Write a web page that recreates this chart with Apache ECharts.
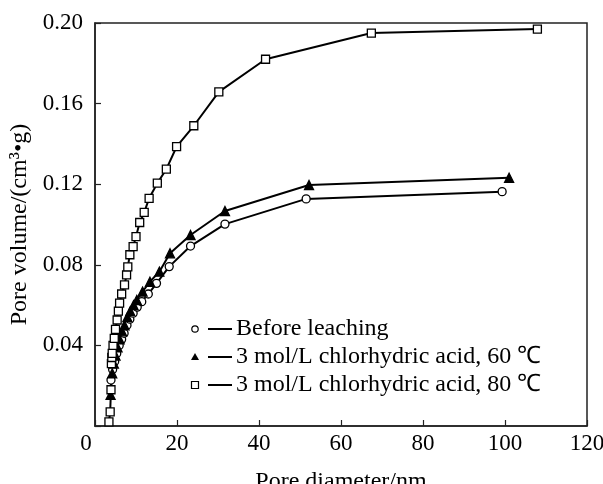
<!DOCTYPE html>
<html><head><meta charset="utf-8">
<script src="https://cdn.jsdelivr.net/npm/echarts@6/dist/echarts.min.js"></script>
<style>html,body{margin:0;padding:0;background:#fff}#c{width:603px;height:484px}</style>
</head><body><div id="c"></div>
<script>
const legendNames = ["Before leaching", "3 mol/L chlorhydric acid, 60 \u2103", "3 mol/L chlorhydric acid, 80 \u2103"];
const xTicks = [0, 20, 40, 60, 80, 100, 120];
const yTicks = [0, 0.04, 0.08, 0.12, 0.16, 0.20];

const beforeX = [3.9,4.3,4.8,5.3,5.9,6.5,7.1,7.8,8.5,9.3,10.3,11.4,13.0,15.0,18.1,23.3,31.7,51.5,99.3];
const beforeY = [0.0228,0.028,0.032,0.036,0.040,0.043,0.046,0.050,0.053,0.056,0.059,0.0617,0.0655,0.0708,0.0791,0.0893,0.1002,0.1127,0.1163];

const acid60X = [3.8,4.2,4.6,5.0,5.5,6.0,6.6,7.2,7.9,8.6,9.4,10.2,11.6,13.4,15.7,18.3,23.3,31.7,52.2,101.0];
const acid60Y = [0.0154,0.0261,0.031,0.035,0.039,0.043,0.047,0.050,0.054,0.057,0.060,0.0625,0.0667,0.0716,0.0766,0.0857,0.0948,0.1067,0.1196,0.1232];

const acid80X = [3.4,3.7,3.9,4.0,4.1,4.2,4.4,4.7,5.0,5.4,5.7,6.0,6.5,7.2,7.7,8.0,8.5,9.3,10.0,10.9,12.0,13.2,15.2,17.4,19.9,24.1,30.2,41.6,67.4,107.9];
const acid80Y = [0.002,0.007,0.018,0.031,0.034,0.036,0.040,0.0435,0.048,0.0526,0.057,0.061,0.0655,0.070,0.075,0.079,0.085,0.089,0.094,0.101,0.106,0.113,0.1205,0.1275,0.1386,0.149,0.1658,0.182,0.195,0.197];

const zip = (a, b) => a.map((v, i) => [v, b[i]]);
const FONT = '"Liberation Serif", "Times New Roman", serif';

const chart = echarts.init(document.getElementById('c'), null, {renderer: 'canvas'});
const lineStyle = {color: '#000', width: 2};
const mk = (name, data, symbol, size, fill) => ({
  name, type: 'line', data, symbol, symbolSize: size, showSymbol: true,
  lineStyle, itemStyle: {color: fill, borderColor: '#000', borderWidth: 1.3},
  emphasis: {disabled: true}, animation: false
});

const lx = 195, ly = [329, 357, 385];
const legendGraphic = [
  {type: 'circle', shape: {cx: lx, cy: ly[0], r: 3.2}, style: {fill: '#fff', stroke: '#000', lineWidth: 1.2}},
  {type: 'polygon', shape: {points: [[lx, ly[1] - 4], [lx - 4, ly[1] + 3], [lx + 4, ly[1] + 3]]}, style: {fill: '#000'}},
  {type: 'rect', shape: {x: lx - 3.5, y: ly[2] - 3.5, width: 7, height: 7}, style: {fill: '#fff', stroke: '#000', lineWidth: 1.2}}
];
ly.forEach((y, i) => {
  legendGraphic.push({type: 'line', shape: {x1: 208, y1: y, x2: 232, y2: y}, style: {stroke: '#000', lineWidth: 2}});
  legendGraphic.push({type: 'text', x: 236, y: y, style: {text: legendNames[i], font: '24px ' + FONT, fill: '#000', verticalAlign: 'middle', align: 'left'}});
});

chart.setOption({
  backgroundColor: '#fff',
  animation: false,
  grid: {left: 95, top: 23, right: 16, bottom: 58, containLabel: false, outerBoundsMode: 'none',
    show: true, borderColor: '#222', borderWidth: 1.5, backgroundColor: 'transparent'},
  xAxis: {
    type: 'value', min: 0, max: 120, interval: 20,
    name: 'Pore diameter/nm', nameLocation: 'middle', nameGap: 44,
    nameTextStyle: {fontFamily: FONT, fontSize: 24, color: '#000'},
    axisLine: {show: true, onZero: false, lineStyle: {color: '#222', width: 1.5}},
    axisTick: {show: true, inside: true, length: 6, lineStyle: {color: '#222', width: 1.2}},
    splitLine: {show: false},
    axisLabel: {fontFamily: FONT, fontSize: 23, color: '#000', margin: 6,
      formatter: v => xTicks.includes(v) ? (v === 0 ? '{z|0}' : String(v)) : '',
      rich: {z: {fontFamily: FONT, fontSize: 23, color: '#000', padding: [0, 18, 0, 0]}}}
  },
  yAxis: {
    type: 'value', min: 0, max: 0.2, interval: 0.04,
    name: 'Pore volume/(cm\u00b3\u2022g)', nameLocation: 'middle', nameGap: 62,
    nameTextStyle: {fontFamily: FONT, fontSize: 24, color: '#000'},
    axisLine: {show: true, onZero: false, lineStyle: {color: '#222', width: 1.5}},
    axisTick: {show: true, inside: true, length: 6, lineStyle: {color: '#222', width: 1.2}},
    splitLine: {show: false},
    axisLabel: {fontFamily: FONT, fontSize: 23, color: '#000', margin: 12,
      formatter: v => {
        if (Math.abs(v) < 1e-9) return '';
        const t = yTicks.find(k => Math.abs(k - v) < 1e-9);
        return t === undefined ? '' : t.toFixed(2);
      }}
  },
  series: [
    mk(legendNames[0], zip(beforeX, beforeY), 'circle', 8, '#fff'),
    mk(legendNames[1], zip(acid60X, acid60Y), 'triangle', 9, '#000'),
    mk(legendNames[2], zip(acid80X, acid80Y), 'rect', 8, '#fff')
  ],
  graphic: legendGraphic
});
</script></body></html>
